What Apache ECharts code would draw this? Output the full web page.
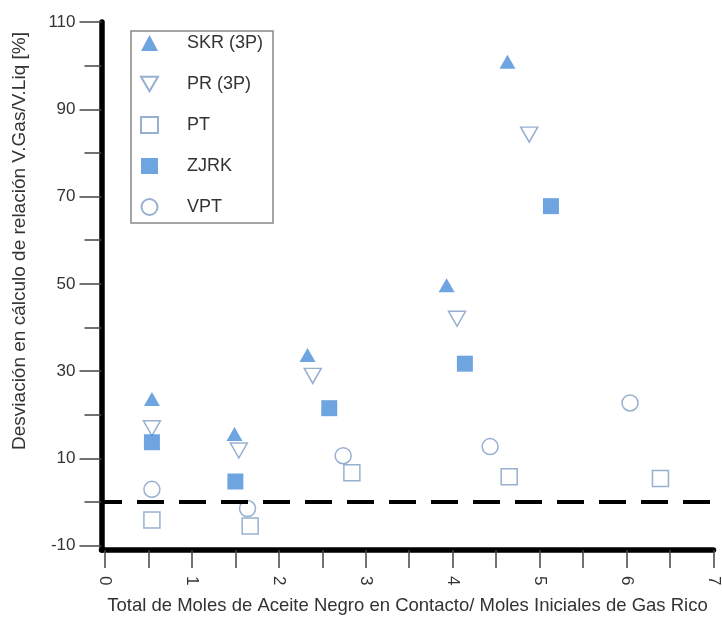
<!DOCTYPE html>
<html><head><meta charset="utf-8">
<script src="https://cdn.jsdelivr.net/npm/echarts@6/dist/echarts.min.js"></script>
<style>html,body{margin:0;padding:0;background:#fff}#c{width:722px;height:620px}</style>
</head><body><div id="c"></div>
<script>
const seriesNames = ['SKR (3P)', 'PR (3P)', 'PT', 'ZJRK', 'VPT'];
const skrX = [0.54, 1.49, 2.33, 3.93, 4.63];
const skrY = [23.6, 15.6, 33.7, 49.7, 100.9];
const prX = [0.54, 1.54, 2.39, 4.05, 4.88];
const prY = [16.9, 11.8, 28.9, 42.0, 84.2];
const ptX = [0.54, 1.67, 2.84, 4.65, 6.39];
const ptY = [-4.1, -5.5, 6.7, 5.8, 5.4];
const zjrkX = [0.54, 1.50, 2.58, 4.14, 5.13];
const zjrkY = [13.7, 4.7, 21.5, 31.7, 67.8];
const vptX = [0.54, 1.64, 2.74, 4.43, 6.04];
const vptY = [2.9, -1.5, 10.6, 12.7, 22.7];
const xTickLabels = [0, 1, 2, 3, 4, 5, 6, 7];
const xTickMarks = [0, 0.5, 1, 1.5, 2, 2.5, 3, 3.5, 4, 4.5, 5, 5.5, 6, 6.5, 7];
const yTickLabels = [110, 90, 70, 50, 30, 10, -10];
const yMinorTicks = [100, 80, 60, 40, 20, 0];
const refLineY = 0;

const xTitle = 'Total de Moles de Aceite Negro en Contacto/ Moles Iniciales de Gas Rico';
const yTitle = 'Desviación en cálculo de relación V.Gas/V.Liq [%]';

const FONT = '"Liberation Sans", Arial, sans-serif';
const BLUE = '#4a8fd8';
const OPEN = '#7d9cc4';
const DOWN_TRI = 'path://M0,0L20,0L10,17Z';
const pairs = (xs, ys) => xs.map((x, i) => [x, ys[i]]);

const filled = { color: BLUE, borderWidth: 0 };
const open = { color: '#ffffff', borderColor: OPEN, borderWidth: 1.5 };

const chart = echarts.init(document.getElementById('c'), null, { renderer: 'canvas' });
chart.setOption({
  animation: false,
  backgroundColor: '#ffffff',
  grid: { left: 101.5, right: 3, top: 22, bottom: 68 },
  xAxis: {
    type: 'value', min: -0.04, max: 7,
    axisLine: { show: true, onZero: false, lineStyle: { color: '#000', width: 5.5 } },
    axisTick: { show: true, length: 18, customValues: xTickMarks, lineStyle: { color: '#444', width: 1.5 } },
    axisLabel: { customValues: xTickLabels, rotate: -90, margin: 26, color: '#333', fontSize: 17, fontFamily: FONT },
    splitLine: { show: false },
    name: xTitle, nameLocation: 'middle', nameGap: 46,
    nameTextStyle: { color: '#333', fontSize: 18.5, fontFamily: FONT }
  },
  yAxis: [{
    type: 'value', min: -11, max: 110,
    axisLine: { show: true, onZero: false, lineStyle: { color: '#000', width: 5.5 } },
    axisTick: { show: true, length: 22, customValues: yTickLabels, lineStyle: { color: '#444', width: 1.5 } },
    axisLabel: { customValues: yTickLabels, margin: 26, color: '#333', fontSize: 17, fontFamily: FONT },
    splitLine: { show: false },
    name: yTitle, nameLocation: 'middle', nameGap: 72, nameRotate: 90,
    nameTextStyle: { color: '#333', fontSize: 19, fontFamily: FONT, padding: [0, 0, 0, 90] }
  }, {
    type: 'value', min: -11, max: 110, position: 'left',
    axisLine: { show: false, onZero: false },
    axisTick: { show: true, length: 17, customValues: yMinorTicks, lineStyle: { color: '#444', width: 1.5 } },
    axisLabel: { show: false },
    splitLine: { show: false }
  }],
  legend: {
    orient: 'vertical', left: 131, top: 31,
    padding: [3, 10, 7, 9],
    itemWidth: 17, itemHeight: 16, itemGap: 23,
    backgroundColor: '#fff', borderColor: '#888', borderWidth: 1.5,
    textStyle: { color: '#333', fontSize: 18, fontFamily: FONT, padding: [0, 0, 0, 24] },
    data: seriesNames
  },
  series: [
    {
      type: 'line', name: 'ref', data: [], z: 1, silent: true,
      markLine: {
        silent: true, symbol: ['none', 'none'], label: { show: false },
        lineStyle: { color: '#000', width: 3.8, type: [27, 15], dashOffset: 6.5 },
        data: [{ yAxis: refLineY }]
      }
    },
    { type: 'scatter', name: seriesNames[0], z: 3, symbol: 'triangle', symbolSize: [16, 14], itemStyle: filled, data: pairs(skrX, skrY) },
    { type: 'scatter', name: seriesNames[1], z: 3, symbol: DOWN_TRI, symbolSize: [17, 15], itemStyle: open, data: pairs(prX, prY) },
    { type: 'scatter', name: seriesNames[2], z: 3, symbol: 'rect', symbolSize: 16, itemStyle: open, data: pairs(ptX, ptY) },
    { type: 'scatter', name: seriesNames[3], z: 3, symbol: 'rect', symbolSize: 16, itemStyle: filled, data: pairs(zjrkX, zjrkY) },
    { type: 'scatter', name: seriesNames[4], z: 3, symbol: 'circle', symbolSize: 16, itemStyle: open, data: pairs(vptX, vptY) }
  ]
});
</script>
</body></html>
